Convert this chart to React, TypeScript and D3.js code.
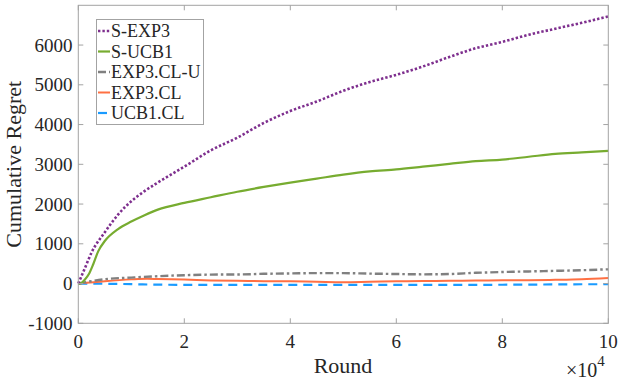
import { useEffect, useRef } from 'react'
import * as d3 from 'd3'

// rounds, in units of 10^4
const sexp3X = [0, 0.125, 0.25, 0.5, 0.75, 1, 1.25, 1.5, 2, 2.5, 3, 3.5, 4, 4.5, 5, 5.5, 6, 6.5, 7, 7.5, 8, 8.5, 9, 9.5, 10]
const sexp3Y = [0, 390, 780, 1290, 1735, 2070, 2325, 2540, 2940, 3350, 3670, 4040, 4340, 4580, 4850, 5070, 5250, 5460, 5700, 5920, 6080, 6260, 6410, 6560, 6720]

const sucb1X = [0, 0.06, 0.125, 0.2, 0.28, 0.375, 0.5, 0.75, 1, 1.25, 1.5, 2, 2.5, 3, 3.5, 4, 4.5, 5, 5.5, 6, 6.5, 7, 7.5, 8, 8.5, 9, 9.5, 10]
const sucb1Y = [0, 15, 100, 240, 480, 810, 1070, 1370, 1560, 1720, 1860, 2030, 2170, 2310, 2430, 2540, 2640, 2740, 2820, 2870, 2940, 3010, 3080, 3120, 3190, 3260, 3300, 3340]

const clUX = [0, 0.5, 1, 1.5, 2, 2.5, 3, 3.5, 4, 4.5, 5, 5.5, 6, 6.5, 7, 7.5, 8, 8.5, 9, 9.5, 10]
const clUY = [0, 110, 150, 185, 210, 225, 228, 245, 255, 262, 262, 250, 240, 232, 240, 270, 290, 305, 320, 335, 360]

const clX = [0, 0.5, 1, 1.3, 1.5, 2, 2.5, 3, 3.5, 4, 4.5, 5, 5.5, 6, 6.5, 7, 7.5, 8, 8.5, 9, 9.5, 10]
const clY = [0, 60, 105, 120, 115, 100, 78, 68, 60, 55, 45, 35, 45, 55, 62, 68, 75, 80, 85, 95, 110, 140]

const ucbX = [0, 0.5, 1, 1.5, 2, 3, 4, 5, 6, 7, 8, 9, 9.5, 10]
const ucbY = [0, -5, -15, -28, -32, -35, -35, -35, -34, -33, -30, -22, -18, -17]

const xTicks = [0, 2, 4, 6, 8, 10]
const yTicks = [-1000, 0, 1000, 2000, 3000, 4000, 5000, 6000]

const seriesNames = ['S-EXP3', 'S-UCB1', 'EXP3.CL-U', 'EXP3.CL', 'UCB1.CL']

export default function App() {
    const ref = useRef<SVGSVGElement>(null)

    useEffect(() => {
        const svg = d3.select(ref.current)
        svg.selectAll('*').remove()

        const font = 'Liberation Serif, Times New Roman, Times, DejaVu Serif, serif'
        const axisColor = '#a3a3a3'
        const textColor = '#262626'

        const x = d3.scaleLinear().domain([0, 10]).range([78.3, 608.3])
        const y = d3.scaleLinear().domain([-1000, 7000]).range([323.3, 5.3])

        const series = [
            { xs: sexp3X, ys: sexp3Y, color: '#7e2f8e', dash: '2.4 2', width: 2.6 },
            { xs: sucb1X, ys: sucb1Y, color: '#77ac30', dash: null, width: 2.2 },
            { xs: clUX, ys: clUY, color: '#808080', dash: '8 3 2.5 3', width: 2.4 },
            { xs: clX, ys: clY, color: '#ff7043', dash: null, width: 2 },
            { xs: ucbX, ys: ucbY, color: '#1a9bff', dash: '9 6', width: 2.2 },
        ]

        const line = d3
            .line<[number, number]>()
            .x(d => x(d[0]))
            .y(d => y(d[1]))
            .curve(d3.curveMonotoneX)

        // draw lines back to front so S-EXP3 sits on top
        series
            .slice()
            .reverse()
            .forEach(s => {
                const pts = s.xs.map((v, i) => [v, s.ys[i]] as [number, number])
                svg.append('path')
                    .datum(pts)
                    .attr('d', line)
                    .attr('fill', 'none')
                    .attr('stroke', s.color)
                    .attr('stroke-width', s.width)
                    .attr('stroke-dasharray', s.dash)
            })

        // box
        const [x0, x1] = x.range()
        const [y0, y1] = y.range()
        svg.append('rect')
            .attr('x', x0)
            .attr('y', y1)
            .attr('width', x1 - x0)
            .attr('height', y0 - y1)
            .attr('fill', 'none')
            .attr('stroke', axisColor)
            .attr('stroke-width', 1)

        const tickLen = 5
        xTicks.forEach(t => {
            svg.append('line')
                .attr('x1', x(t)).attr('x2', x(t))
                .attr('y1', y0).attr('y2', y0 - tickLen)
                .attr('stroke', axisColor)
            svg.append('line')
                .attr('x1', x(t)).attr('x2', x(t))
                .attr('y1', y1).attr('y2', y1 + tickLen)
                .attr('stroke', axisColor)
            svg.append('text')
                .attr('x', x(t))
                .attr('y', 348)
                .attr('text-anchor', 'middle')
                .attr('font-family', font)
                .attr('font-size', 19)
                .attr('fill', textColor)
                .text(t)
        })

        yTicks.forEach(t => {
            svg.append('line')
                .attr('x1', x0).attr('x2', x0 + tickLen)
                .attr('y1', y(t)).attr('y2', y(t))
                .attr('stroke', axisColor)
            svg.append('line')
                .attr('x1', x1).attr('x2', x1 - tickLen)
                .attr('y1', y(t)).attr('y2', y(t))
                .attr('stroke', axisColor)
            svg.append('text')
                .attr('x', 72.5)
                .attr('y', y(t) + 6.5)
                .attr('text-anchor', 'end')
                .attr('font-family', font)
                .attr('font-size', 19)
                .attr('fill', textColor)
                .text(t)
        })

        // axis labels
        svg.append('text')
            .attr('x', 343)
            .attr('y', 373)
            .attr('text-anchor', 'middle')
            .attr('font-family', font)
            .attr('font-size', 22)
            .attr('fill', textColor)
            .text('Round')

        svg.append('text')
            .attr('transform', `translate(21, ${(y0 + y1) / 2}) rotate(-90)`)
            .attr('text-anchor', 'middle')
            .attr('font-family', font)
            .attr('font-size', 22)
            .attr('fill', textColor)
            .text('Cumulative Regret')

        const exp = svg.append('text')
            .attr('x', 566)
            .attr('y', 377)
            .attr('font-family', font)
            .attr('font-size', 20)
            .attr('fill', textColor)
        exp.append('tspan').text('×10')
        exp.append('tspan').attr('font-size', 15).attr('dy', -11).text('4')

        // legend
        const lg = svg.append('g')
        lg.append('rect')
            .attr('x', 96.5)
            .attr('y', 19.5)
            .attr('width', 107)
            .attr('height', 105)
            .attr('fill', '#fff')
            .attr('stroke', axisColor)

        series.forEach((s, i) => {
            const cy = 31 + i * 20.5
            lg.append('line')
                .attr('x1', 98).attr('x2', 110)
                .attr('y1', cy).attr('y2', cy)
                .attr('stroke', s.color)
                .attr('stroke-width', s.width)
                .attr('stroke-dasharray', s.dash)
            lg.append('text')
                .attr('x', 111)
                .attr('y', cy + 6)
                .attr('font-family', font)
                .attr('font-size', 18)
                .attr('fill', textColor)
                .text(seriesNames[i])
        })
    }, [])

    return (
        <svg
            ref={ref}
            width={620}
            height={382}
            style={{ position: 'absolute', left: 0, top: 0, background: '#fff' }}
        />
    )
}
